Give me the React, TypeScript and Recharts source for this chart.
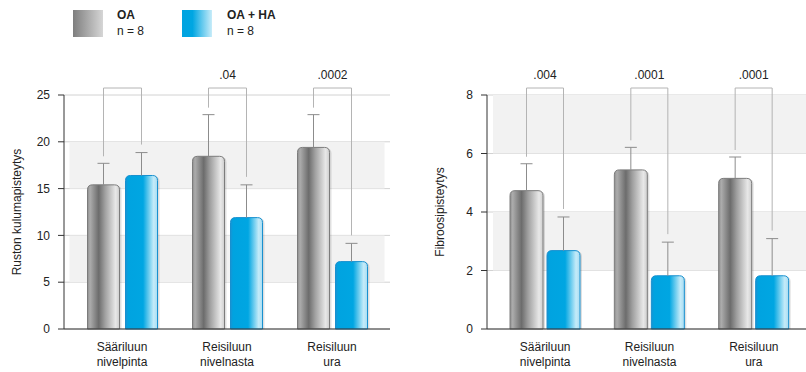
import { BarChart, Bar, XAxis, YAxis, CartesianGrid, ReferenceArea } from "recharts";

const categories = ["Sääriluun\nnivelpinta", "Reisiluun\nnivelnasta", "Reisiluun\nura"];

// rustonkuluma (cartilage wear)
const wearOA = [15.4, 18.45, 19.4];
const wearOASd = [2.3, 4.45, 3.5];
const wearHA = [16.4, 11.9, 7.2];
const wearHASd = [2.45, 3.5, 1.95];
const wearP = ["", ".04", ".0002"];
const wearTicks = [0, 5, 10, 15, 20, 25];
const wearBands = [[5, 10], [15, 20]];

// fibroosi
const fibOA = [4.73, 5.44, 5.15];
const fibOASd = [0.92, 0.77, 0.73];
const fibHA = [2.68, 1.82, 1.82];
const fibHASd = [1.15, 1.15, 1.27];
const fibP = [".004", ".0001", ".0001"];
const fibTicks = [0, 2, 4, 6, 8];
const fibBands = [[2, 4], [6, 8]];

const FONT = "'Liberation Sans', Arial, Helvetica, sans-serif";

type Cfg = {
  oa: number[];
  oaSd: number[];
  ha: number[];
  haSd: number[];
  p: string[];
  max: number;
  step: number; // distance between OA and HA bar centers
  id: string;
};

function topPath(x: number, y: number, w: number, h: number, r: number) {
  return `M${x},${y + h} L${x},${y + r} Q${x},${y} ${x + r},${y} L${x + w - r},${y} Q${x + w},${y} ${x + w},${y + r} L${x + w},${y + h} Z`;
}

function makeShape(kind: "oa" | "ha", cfg: Cfg) {
  return (props: any) => {
    const { x, y, width, height, index } = props;
    const value = kind === "oa" ? cfg.oa[index] : cfg.ha[index];
    const sd = kind === "oa" ? cfg.oaSd[index] : cfg.haSd[index];
    const ppu = height / value;
    const base = y + height;
    const cx = x + width / 2;
    const errY = base - (value + sd) * ppu;
    const fill = kind === "oa" ? `url(#${cfg.id}-gray)` : `url(#${cfg.id}-blue)`;
    const edge = kind === "oa" ? "#7c7c7c" : "#1890cf";

    let bracket = null;
    if (kind === "ha") {
      const oaCx = cx - cfg.step;
      const oaErrY = base - (cfg.oa[index] + cfg.oaSd[index]) * ppu;
      const top = base - cfg.max * ppu - 7;
      bracket = (
        <g>
          <path
            d={`M${oaCx},${oaErrY - 7} L${oaCx},${top} L${cx},${top} L${cx},${errY - 8}`}
            fill="none"
            stroke="#b4b4b4"
            strokeWidth={1}
          />
          {cfg.p[index] && (
            <text x={(oaCx + cx) / 2} y={top - 9} textAnchor="middle" fontSize={12} fill="#222" fontFamily={FONT}>
              {cfg.p[index]}
            </text>
          )}
        </g>
      );
    }

    return (
      <g>
        <path d={topPath(x + 2, y + 1, width, height - 1, 5)} fill="#000" opacity={0.12} />
        <path d={topPath(x, y, width, height, 5)} fill={fill} stroke={edge} strokeWidth={1} />
        <line x1={cx} y1={y} x2={cx} y2={errY} stroke="#8c8c8c" />
        <line x1={cx - 6} y1={errY} x2={cx + 6} y2={errY} stroke="#8c8c8c" />
        {bracket}
      </g>
    );
  };
}

function CatTick(props: any) {
  const { x, y, payload } = props;
  const lines = String(payload.value).split("\n");
  return (
    <text x={x} y={y} textAnchor="middle" fontSize={12} fill="#222" fontFamily={FONT}>
      {lines.map((l, i) => (
        <tspan key={i} x={x} dy={i === 0 ? 14 : 15}>
          {l}
        </tspan>
      ))}
    </text>
  );
}

function Gradients({ id }: { id: string }) {
  return (
    <defs>
      <linearGradient id={`${id}-gray`} x1="0" y1="0" x2="1" y2="0">
        <stop offset="0" stopColor="#8e8e8e" />
        <stop offset="0.08" stopColor="#acacac" />
        <stop offset="0.35" stopColor="#6c6c6c" />
        <stop offset="0.55" stopColor="#a0a0a0" />
        <stop offset="0.88" stopColor="#e8e8e8" />
        <stop offset="1" stopColor="#cdcdcd" />
      </linearGradient>
      <linearGradient id={`${id}-blue`} x1="0" y1="0" x2="1" y2="0">
        <stop offset="0" stopColor="#1a92d2" />
        <stop offset="0.08" stopColor="#00a3e0" />
        <stop offset="0.55" stopColor="#00a6e2" />
        <stop offset="0.88" stopColor="#c4ebf9" />
        <stop offset="1" stopColor="#a8dcf2" />
      </linearGradient>
    </defs>
  );
}

type PanelProps = {
  cfg: Cfg;
  ticks: number[];
  bands: number[][];
  label: string;
  width: number;
  yWidth: number;
  labelX: number;
  marginRight: number;
  padLeft: number;
  padRight: number;
  barSize: number;
  barGap: number;
};

function Panel(p: PanelProps) {
  const data = categories.map((name, i) => ({ name, oa: p.cfg.oa[i], ha: p.cfg.ha[i] }));
  return (
    <BarChart
      width={p.width}
      height={372}
      data={data}
      margin={{ top: 95, right: p.marginRight, bottom: 0, left: 0 }}
      barSize={p.barSize}
      barGap={p.barGap}
    >
      <Gradients id={p.cfg.id} />
      {p.bands.map(([a, b], i) => (
        <ReferenceArea key={i} y1={a} y2={b} fill="#f2f2f2" fillOpacity={1} stroke="none" />
      ))}
      <CartesianGrid vertical={false} stroke="#d2d2d2" />
      <XAxis
        dataKey="name"
        height={43}
        interval={0}
        tickLine={false}
        axisLine={{ stroke: "#333" }}
        tick={<CatTick />}
        padding={{ left: p.padLeft, right: p.padRight }}
      />
      <YAxis
        width={p.yWidth}
        domain={[0, p.cfg.max]}
        ticks={p.ticks}
        interval={0}
        tickSize={6}
        tickMargin={8}
        tick={{ fontSize: 12, fill: "#222", fontFamily: FONT }}
        tickLine={{ stroke: "#333" }}
        axisLine={{ stroke: "#333" }}
        label={{
          content: (lp: any) => {
            const vb = lp.viewBox || { y: 95, height: 234 };
            const cy = vb.y + vb.height / 2;
            return (
              <text
                x={p.labelX}
                y={cy}
                transform={`rotate(-90 ${p.labelX} ${cy})`}
                textAnchor="middle"
                dominantBaseline="central"
                fontSize={12}
                fill="#222"
                fontFamily={FONT}
              >
                {p.label}
              </text>
            );
          },
        }}
      />
      <Bar dataKey="oa" isAnimationActive={false} shape={makeShape("oa", p.cfg)} />
      <Bar dataKey="ha" isAnimationActive={false} shape={makeShape("ha", p.cfg)} />
    </BarChart>
  );
}

function Legend() {
  const txt = { position: "absolute" as const, fontSize: 12, color: "#222", fontFamily: FONT, lineHeight: "14px" };
  return (
    <>
      <div style={{ position: "absolute", left: 73, top: 10, width: 30, height: 27, background: "linear-gradient(to right, #7e7e7e, #d6d6d6)" }} />
      <div style={{ ...txt, left: 117, top: 8, fontWeight: "bold" }}>OA</div>
      <div style={{ ...txt, left: 117, top: 24 }}>n = 8</div>
      <div style={{ position: "absolute", left: 182, top: 10, width: 30, height: 27, background: "linear-gradient(to right, #00a3e0 0%, #00a6e2 35%, #c8ecf9 100%)" }} />
      <div style={{ ...txt, left: 227, top: 8, fontWeight: "bold" }}>OA + HA</div>
      <div style={{ ...txt, left: 227, top: 24 }}>n = 8</div>
    </>
  );
}

export default function App() {
  const wearCfg: Cfg = { oa: wearOA, oaSd: wearOASd, ha: wearHA, haSd: wearHASd, p: wearP, max: 25, step: 38, id: "wear" };
  const fibCfg: Cfg = { oa: fibOA, oaSd: fibOASd, ha: fibHA, haSd: fibHASd, p: fibP, max: 8, step: 37, id: "fib" };
  return (
    <div style={{ position: "absolute", left: 0, top: 0, width: 806, height: 372, background: "#fff", fontFamily: FONT, overflow: "hidden" }}>
      <Legend />
      <div style={{ position: "absolute", left: 0, top: 0 }}>
        <Panel
          cfg={wearCfg}
          ticks={wearTicks}
          bands={wearBands}
          label="Ruston kulumapisteytys"
          width={400}
          yWidth={64}
          labelX={17}
          marginRight={10}
          padLeft={5.5}
          padRight={5.5}
          barSize={32}
          barGap={6}
        />
      </div>
      <div style={{ position: "absolute", left: 420, top: 0 }}>
        <Panel
          cfg={fibCfg}
          ticks={fibTicks}
          bands={fibBands}
          label="Fibroosipisteytys"
          width={386}
          yWidth={67}
          labelX={20}
          marginRight={0}
          padLeft={6}
          padRight={0}
          barSize={33}
          barGap={4}
        />
      </div>
    </div>
  );
}
